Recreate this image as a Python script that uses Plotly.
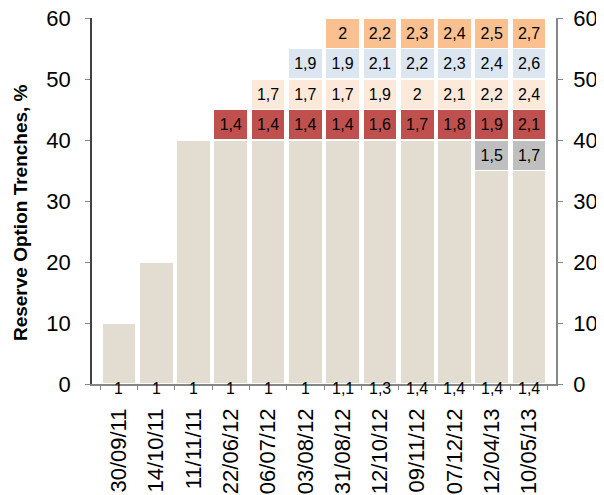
import plotly.graph_objects as go

categories = ["30/09/11", "14/10/11", "11/11/11", "22/06/12", "06/07/12", "03/08/12",
              "31/08/12", "12/10/12", "09/11/12", "07/12/12", "12/04/13", "10/05/13"]
# cumulative level of the base (beige) tranche, %
base_level = [10, 20, 40, 40, 40, 40, 40, 40, 40, 40, 35, 35]
# rates shown under each column for the base tranche
base_rate = [1, 1, 1, 1, 1, 1, 1.1, 1.3, 1.4, 1.4, 1.4, 1.4]
# upper tranches (5% each): rate labels, None where tranche absent
gray_rate = [None] * 10 + [1.5, 1.7]
red_rate = [None, None, None, 1.4, 1.4, 1.4, 1.4, 1.6, 1.7, 1.8, 1.9, 2.1]
peach_rate = [None] * 4 + [1.7, 1.7, 1.7, 1.9, 2, 2.1, 2.2, 2.4]
blue_rate = [None] * 5 + [1.9, 1.9, 2.1, 2.2, 2.3, 2.4, 2.6]
orange_rate = [None] * 6 + [2, 2.2, 2.3, 2.4, 2.5, 2.7]
tranche_size = 5
y_ticks = [0, 10, 20, 30, 40, 50, 60]
y_title = "Reserve Option Trenches, %"


def fmt(v):
    if v is None:
        return ""
    return ("%g" % v).replace(".", ",")


FONT = "Liberation Sans, Arial, sans-serif"
fig = go.Figure()

fig.add_trace(go.Bar(x=categories, y=base_level,
                     marker=dict(color="#E3DCD1", line=dict(color="white", width=1.5)),
                     hoverinfo="skip"))


def add_tranche(rates, color):
    ys = [tranche_size if r is not None else 0 for r in rates]
    fig.add_trace(go.Bar(x=categories, y=ys, text=[fmt(r) for r in rates], textposition="inside",
                         insidetextanchor="middle", textangle=0, constraintext="none",
                         textfont=dict(color="black", size=16, family=FONT),
                         marker=dict(color=color, line=dict(color="white", width=1.5)),
                         hoverinfo="skip"))


add_tranche(gray_rate, "#BFBFBF")
add_tranche(red_rate, "#C0504D")
add_tranche(peach_rate, "#FDE9D9")
add_tranche(blue_rate, "#DCE6F1")
add_tranche(orange_rate, "#FAC090")

for c, v in zip(categories, base_rate):
    fig.add_annotation(x=c, y=0, yref="y", xref="x", text=fmt(v), showarrow=False,
                       yanchor="middle", yshift=-4,
                       font=dict(color="black", size=16, family=FONT))

fig.add_annotation(x=0, xref="paper", y=0.467, yref="paper", text="<b>" + y_title + "</b>",
                   textangle=-90, showarrow=False, xanchor="center", yanchor="middle", xshift=-72,
                   font=dict(color="black", size=19, family=FONT))

fig.add_trace(go.Scatter(x=categories, y=[None] * len(categories), yaxis="y2", mode="markers",
                         showlegend=False, hoverinfo="skip"))

fig.update_layout(
    barmode="stack", bargap=0.08, showlegend=False,
    width=604, height=495, margin=dict(l=84, r=56, t=10, b=119),
    plot_bgcolor="white", paper_bgcolor="white",
    font=dict(family=FONT, color="black"),
    xaxis=dict(type="category", tickangle=-90, tickfont=dict(size=22), showline=True,
               linecolor="#868686", linewidth=1.5, ticks="outside", ticklen=4, tickcolor="#868686",
               tickson="boundaries", showgrid=False, zeroline=False, automargin=False,
               ticklabelstandoff=14, ticklabeloverflow="allow"),
    yaxis=dict(range=[0, 60], tickvals=y_ticks, tickfont=dict(size=22), showline=True,
               linecolor="#404040", linewidth=1.5, ticks="outside", ticklen=5, tickcolor="#868686",
               showgrid=False, zeroline=False, automargin=False, ticklabelstandoff=10,
               ticklabeloverflow="allow"),
    yaxis2=dict(range=[0, 60], tickvals=y_ticks, tickfont=dict(size=22), overlaying="y", side="right",
                showline=True, linecolor="#868686", linewidth=1.5, ticks="outside", ticklen=5,
                tickcolor="#868686", showgrid=False, zeroline=False, automargin=False,
                ticklabelstandoff=6, ticklabeloverflow="allow"),
)

fig.write_html("out.html")
